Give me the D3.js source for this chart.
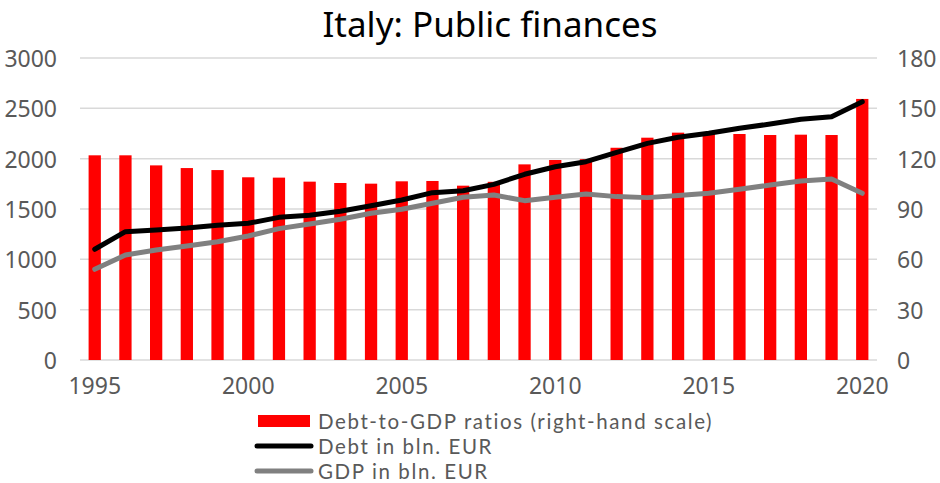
<!DOCTYPE html>
<html>
<head>
<meta charset="utf-8">
<script src="https://cdn.jsdelivr.net/npm/d3@7"></script>
<style>
  html, body { margin: 0; padding: 0; background: #fff; }
  svg { display: block; font-family: "Noto Sans", "Open Sans", sans-serif; }
</style>
</head>
<body>
<svg id="chart" width="940" height="483"></svg>
<script>
// Italy public finances, 1995–2020
const years = d3.range(1995, 2021);
// General government debt, % of GDP (right-hand scale)
const debtRatio = [122.0, 122.0, 116.0, 114.4, 113.2, 108.9, 108.7, 106.3, 105.5, 105.1,
                   106.5, 106.7, 103.9, 106.2, 116.6, 119.2, 119.7, 126.5, 132.5, 135.5,
                   135.0, 134.7, 134.1, 134.3, 134.1, 155.6];
// Debt in bln. EUR (left-hand scale)
const debt = [1100, 1275, 1291, 1311, 1338, 1358, 1417, 1437, 1477, 1532,
              1589, 1662, 1682, 1745, 1845, 1920, 1970, 2063, 2152, 2212,
              2252, 2302, 2344, 2391, 2417, 2566];
// GDP in bln. EUR (left-hand scale)
const gdp = [901, 1043, 1093, 1132, 1175, 1232, 1305, 1351, 1398, 1457,
             1497, 1557, 1616, 1639, 1583, 1616, 1649, 1623, 1613, 1634,
             1656, 1696, 1738, 1778, 1798, 1656];
const leftTicks = [0, 500, 1000, 1500, 2000, 2500, 3000];
const rightTicks = [0, 30, 60, 90, 120, 150, 180];
const yearTicks = [1995, 2000, 2005, 2010, 2015, 2020];
const legendLabels = ["Debt-to-GDP ratios (right-hand scale)", "Debt in bln. EUR", "GDP in bln. EUR"];

const svg = d3.select("#chart");
const plot = { left: 80, right: 877, top: 58, bottom: 360 };
const axisColor = "#595959";
const tickFont = 23;

const x = d3.scaleBand().domain(years).range([plot.left, plot.right])
  .paddingInner(0.6).paddingOuter(0.28);
const yL = d3.scaleLinear().domain([0, 3000]).range([plot.bottom, plot.top]);
const yR = d3.scaleLinear().domain([0, 180]).range([plot.bottom, plot.top]);
const cx = d => x(d) + x.bandwidth() / 2;

// Title
svg.append("text").attr("x", 490).attr("y", 37).attr("text-anchor", "middle")
  .attr("font-size", 35).attr("fill", "#000").text("Italy: Public finances");

// Gridlines
svg.append("g").selectAll("line").data(leftTicks).join("line")
  .attr("x1", plot.left).attr("x2", plot.right)
  .attr("y1", d => yL(d)).attr("y2", d => yL(d))
  .attr("stroke", "#d9d9d9").attr("stroke-width", 1.5);

function styleAxis(g) {
  g.select(".domain").remove();
  g.selectAll("text").attr("font-size", tickFont).attr("fill", axisColor)
    .attr("font-family", "Noto Sans, sans-serif");
}

// Left axis
svg.append("g").attr("transform", `translate(${plot.left - 23},1)`)
  .call(d3.axisLeft(yL).tickValues(leftTicks).tickFormat(d3.format("d"))
    .tickSize(0).tickPadding(0))
  .call(styleAxis);

// Right axis
svg.append("g").attr("transform", `translate(${plot.right + 20},1)`)
  .call(d3.axisRight(yR).tickValues(rightTicks).tickFormat(d3.format("d"))
    .tickSize(0).tickPadding(0))
  .call(styleAxis);

// Bottom axis (year labels)
svg.append("g").attr("transform", `translate(0,${plot.bottom + 18})`)
  .call(d3.axisBottom(x).tickValues(yearTicks).tickSize(0).tickPadding(0))
  .call(styleAxis);

// Bars: debt-to-GDP ratio
svg.append("g").selectAll("rect").data(years).join("rect")
  .attr("x", d => x(d)).attr("width", x.bandwidth())
  .attr("y", (d, i) => yR(debtRatio[i]))
  .attr("height", (d, i) => plot.bottom - yR(debtRatio[i]))
  .attr("fill", "#ff0000");

// Lines
const line = values => d3.line().x((d, i) => cx(years[i])).y(d => yL(d))(values);
svg.append("path").attr("d", line(gdp)).attr("fill", "none")
  .attr("stroke", "#808080").attr("stroke-width", 5)
  .attr("stroke-linejoin", "round").attr("stroke-linecap", "round");
svg.append("path").attr("d", line(debt)).attr("fill", "none")
  .attr("stroke", "#000").attr("stroke-width", 5)
  .attr("stroke-linejoin", "round").attr("stroke-linecap", "round");

// Legend
const lg = svg.append("g");
const rows = [429, 453.8, 478.5];
lg.append("rect").attr("x", 258).attr("y", 415).attr("width", 52).attr("height", 12)
  .attr("fill", "#ff0000");
lg.append("line").attr("x1", 257).attr("x2", 311).attr("y1", 446).attr("y2", 446)
  .attr("stroke", "#000").attr("stroke-width", 5).attr("stroke-linecap", "round");
lg.append("line").attr("x1", 257).attr("x2", 311).attr("y1", 471).attr("y2", 471)
  .attr("stroke", "#808080").attr("stroke-width", 5).attr("stroke-linecap", "round");
lg.selectAll("text").data(legendLabels).join("text")
  .attr("x", 318).attr("y", (d, i) => rows[i])
  .attr("font-family", "Lato, sans-serif")
  .attr("font-size", 20.5).attr("letter-spacing", 1.6)
  .attr("fill", axisColor).text(d => d);
</script>
</body>
</html>
